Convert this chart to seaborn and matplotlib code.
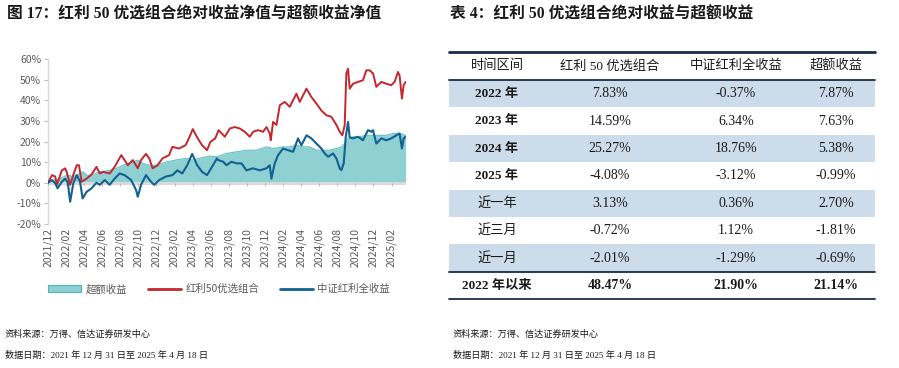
import matplotlib
matplotlib.use("Agg")
import matplotlib.pyplot as plt
import seaborn as sns
from matplotlib.patches import Patch, Rectangle
from matplotlib.lines import Line2D

# ---------------- data (months since 2021/12/31, percent) ----------------
red_m = [0.00, 0.44, 0.80, 0.99, 1.53, 1.90, 2.08, 2.45, 2.81, 3.18, 3.43, 3.72, 4.27, 4.82,
         5.36, 5.73, 6.09, 6.82, 7.37, 8.10, 8.47, 8.83, 9.38, 9.93, 10.29, 10.84, 11.20,
         11.57, 12.12, 12.66, 13.39, 13.76, 14.49, 15.22, 15.58, 16.02, 16.50, 17.04, 17.59,
         17.96, 18.50, 18.87, 19.56, 20.11, 20.66, 21.22, 21.77, 22.32, 22.69, 23.24, 23.79,
         24.16, 24.53, 24.64, 24.90, 25.27, 25.64, 26.19, 26.74, 27.48, 27.85, 28.59, 29.13,
         29.69, 30.24, 30.79, 31.34, 31.90, 32.27, 32.56, 32.82, 33.00, 33.19, 33.37, 33.74,
         34.29, 34.84, 35.21, 35.58, 35.95, 36.32, 36.87, 37.42, 37.97, 38.34, 38.71, 38.89,
         39.15, 39.34, 39.56]
red_v = [0.0, 3.7, 3.0, -1.0, 6.0, 7.0, 5.0, -1.0, 4.0, 8.5, 8.5, 0.5, 2.0, 4.0,
         7.7, 4.5, 5.3, 4.5, 7.7, 13.4, 11.0, 8.5, 11.0, 7.0, 11.0, 14.0, 11.8,
         7.0, 8.5, 11.8, 13.4, 17.4, 16.6, 18.2, 21.5, 26.0, 22.0, 18.2, 15.8,
         19.8, 21.5, 25.5, 22.3, 26.3, 27.0, 26.3, 24.7, 22.3, 24.7, 25.5, 24.7,
         27.0, 23.9, 20.6, 29.5, 28.0, 37.6, 39.2, 36.8, 43.2, 39.2, 45.6, 41.6,
         38.4, 35.0, 32.7, 32.0, 28.0, 24.7, 23.0, 28.0, 53.0, 55.3, 45.6, 48.0,
         48.9, 49.7, 54.5, 54.5, 53.0, 46.5, 48.9, 48.0, 47.3, 48.9, 53.7, 52.0,
         40.8, 47.3, 48.9]

blue_m = [0.00, 0.44, 0.80, 1.06, 1.53, 1.90, 2.19, 2.45, 2.81, 3.18, 3.54, 3.83, 4.27, 4.82,
          5.36, 5.73, 6.28, 6.82, 7.37, 7.92, 8.47, 9.20, 9.74, 9.93, 10.29, 10.84, 11.39,
          11.75, 12.30, 13.03, 13.76, 14.31, 14.85, 15.40, 15.95, 16.50, 17.04, 17.59, 18.14,
          18.69, 18.82, 19.37, 19.74, 20.29, 20.85, 21.40, 21.95, 22.69, 23.42, 24.16, 24.53,
          24.71, 25.08, 25.45, 26.00, 26.55, 27.11, 27.66, 28.03, 28.59, 29.13, 29.69, 30.24,
          30.61, 30.98, 31.53, 31.90, 32.27, 32.45, 32.71, 32.93, 33.19, 33.37, 33.74, 34.29,
          34.84, 35.40, 35.77, 35.95, 36.32, 36.87, 37.42, 37.97, 38.53, 38.89, 39.15, 39.34,
          39.56]
blue_v = [0.0, 1.3, -0.3, -2.7, 0.5, 2.0, 0.0, -9.2, 0.0, 3.7, 0.5, -7.6, -4.4, -2.7,
          0.0, -1.0, 1.3, -1.0, 2.0, 4.5, 3.7, 1.3, -3.5, -6.8, -1.0, 3.7, 0.5,
          -1.0, 1.3, 3.0, 3.7, 6.0, 4.5, 8.5, 14.0, 8.5, 5.3, 3.7, 7.7,
          11.8, 11.0, 10.2, 8.5, 10.2, 9.4, 9.4, 6.0, 7.0, 6.0, 7.0, 8.5,
          2.0, 9.4, 13.4, 16.6, 15.8, 15.0, 21.5, 18.2, 23.0, 21.5, 19.0, 16.6,
          14.2, 12.6, 14.2, 11.8, 7.0, 6.1, 9.4, 22.0, 29.5, 22.0, 21.5, 22.3,
          20.6, 25.5, 24.7, 25.5, 19.0, 21.5, 20.6, 21.5, 23.0, 23.9, 16.6, 21.5,
          22.3]

excess_m = [0.00, 0.62, 1.35, 2.08, 2.81, 3.54, 3.91, 4.27, 4.82, 5.73, 6.82, 7.55, 8.28,
            9.38, 9.93, 10.47, 11.20, 11.93, 13.03, 14.12, 15.22, 15.95, 16.68, 17.77,
            18.69, 19.74, 20.85, 21.95, 23.05, 24.16, 24.90, 26.00, 26.74, 27.48, 28.22,
            28.95, 29.69, 30.42, 31.16, 31.90, 32.45, 32.82, 33.19, 33.74, 34.47, 35.21,
            35.95, 36.67, 37.42, 38.16, 38.89, 39.56]
excess_v = [0.0, 1.3, 2.0, 3.7, 3.0, 4.5, 5.3, 3.7, 3.7, 5.3, 6.0, 7.0, 8.5,
            10.0, 11.0, 9.4, 8.5, 8.5, 10.0, 11.0, 11.8, 11.0, 11.8, 12.9,
            12.6, 14.2, 15.0, 15.8, 15.8, 17.4, 16.6, 17.4, 17.4, 18.2, 17.4,
            17.4, 15.8, 15.8, 15.8, 16.6, 17.4, 19.0, 21.5, 22.3, 22.3, 23.0,
            23.0, 23.0, 23.0, 23.9, 23.9, 23.0]

tick_months = [0, 2, 4, 6, 8, 10, 12, 14, 16, 18, 20, 22, 24, 26, 28, 30, 32, 34, 36, 38]
tick_labels = ["2021/12", "2022/02", "2022/04", "2022/06", "2022/08", "2022/10", "2022/12",
               "2023/02", "2023/04", "2023/06", "2023/08", "2023/10", "2023/12", "2024/02",
               "2024/04", "2024/06", "2024/08", "2024/10", "2024/12", "2025/02"]
y_ticks = [-20, -10, 0, 10, 20, 30, 40, 50, 60]
series_names = ["超额收益", "红利50优选组合", "中证红利全收益"]

table_header = ["时间区间", "红利 50 优选组合", "中证红利全收益", "超额收益"]
periods = ["2022 年", "2023 年", "2024 年", "2025 年", "近一年", "近三月", "近一月", "2022 年以来"]
port_ret = ["7.83%", "14.59%", "25.27%", "-4.08%", "3.13%", "-0.72%", "-2.01%", "48.47%"]
index_ret = ["-0.37%", "6.34%", "18.76%", "-3.12%", "0.36%", "1.12%", "-1.29%", "21.90%"]
excess_ret = ["7.87%", "7.63%", "5.38%", "-0.99%", "2.70%", "-1.81%", "-0.69%", "21.14%"]

left_title = "图 17：红利 50 优选组合绝对收益净值与超额收益净值"
right_title = "表 4：红利 50 优选组合绝对收益与超额收益"
source_text = "资料来源：万得、信达证券研发中心"
date_text = "数据日期：2021 年 12 月 31 日至 2025 年 4 月 18 日"

# ---------------- style ----------------
sns.set_theme(style="white")
plt.rcParams["font.family"] = ["Noto Sans CJK SC", "DejaVu Sans"]
SERIF = ["Liberation Serif", "Noto Sans CJK SC"]

RED = "#C4262E"
BLUE = "#12618F"
TEAL = "#8FD0D2"
TEAL_EDGE = "#62C0C2"
GREY_TXT = "#595959"
NAVY = "#1C2B48"
SHADE = "#CDDCEB"

W, H = 899, 368
fig = plt.figure(figsize=(W / 100, H / 100), dpi=100)

# overlay in pixel coordinates for titles, table, footers
ov = fig.add_axes([0, 0, 1, 1])
ov.set_xlim(0, W)
ov.set_ylim(H, 0)
ov.axis("off")

# ---------------- chart ----------------
x0, x1 = 48, 406
ytop, ybot = 59, 224
ax = fig.add_axes([x0 / W, 1 - ybot / H, (x1 - x0) / W, (ybot - ytop) / H])
ax.set_facecolor("none")

ax.fill_between(excess_m, excess_v, 0, color=TEAL, lw=0, zorder=1)
sns.lineplot(x=excess_m, y=excess_v, color=TEAL_EDGE, lw=0.8, ax=ax,
             sort=False, estimator=None, zorder=2)
ax.axhline(0, color="#D9D9D9", lw=2.2, zorder=3)
ax.vlines(tick_months, -1.6, 0, color="#BFBFBF", lw=0.8, zorder=3)
sns.lineplot(x=red_m, y=red_v, color=RED, lw=1.4, ax=ax, sort=False, estimator=None, zorder=4)
sns.lineplot(x=blue_m, y=blue_v, color=BLUE, lw=1.5, ax=ax, sort=False, estimator=None, zorder=5)

ax.set_xlim(0, 39.6)
ax.set_ylim(-20, 60)
ax.set_yticks(y_ticks)
ax.set_yticklabels([f"{v}%" for v in y_ticks])
ax.set_xticks(tick_months)
ax.set_xticklabels(tick_labels, rotation=90)
ax.tick_params(axis="y", left=True, length=3, width=0.8, color="#BFBFBF",
               labelsize=7.5, labelcolor=GREY_TXT, pad=2)
ax.tick_params(axis="x", bottom=False, length=0, labelsize=7.5, labelcolor=GREY_TXT, pad=3)
for s in ["top", "right", "bottom"]:
    ax.spines[s].set_visible(False)
ax.spines["left"].set_color("#D9D9D9")
ax.spines["left"].set_linewidth(1)
ax.set_xlabel("")
ax.set_ylabel("")
ax.grid(False)

handles = [Patch(facecolor=TEAL, edgecolor="#4DB6B8", lw=0.8),
           Line2D([], [], color=RED, lw=2),
           Line2D([], [], color=BLUE, lw=2)]
fig.legend(handles, series_names, loc="center left", bbox_to_anchor=(48 / W, 1 - 289 / H),
           ncol=3, frameon=False, fontsize=7.5, handlelength=3.2, handleheight=0.6,
           columnspacing=2.0, handletextpad=0.4, borderaxespad=0, borderpad=0,
           labelcolor=GREY_TXT)

# ---------------- titles ----------------
ov.text(7, 15, left_title, fontsize=11.3, fontweight="bold", va="center", ha="left",
        family=SERIF, color="#1A1A1A")
ov.text(450, 15, right_title, fontsize=11.3, fontweight="bold", va="center", ha="left",
        family=SERIF, color="#1A1A1A")

# ---------------- table ----------------
tx0, tx1 = 449, 875
col_x = [497, 610, 736, 836]
head_top, head_bot = 52, 80
row_h = 27.4
row_tops = [head_bot + i * row_h for i in range(len(periods) + 1)]

for i in range(len(periods)):
    if i % 2 == 0 and i < 7:
        ov.add_patch(Rectangle((tx0, row_tops[i]), tx1 - tx0, row_h, facecolor=SHADE,
                               edgecolor="none", zorder=0))

ov.plot([tx0, tx1], [head_top, head_top], color=NAVY, lw=2.0)
ov.plot([tx0, tx1], [head_bot, head_bot], color=NAVY, lw=1.3)
ov.plot([tx0, tx1], [row_tops[7], row_tops[7]], color=NAVY, lw=1.3)
ov.plot([tx0, tx1], [row_tops[8], row_tops[8]], color=NAVY, lw=1.3)

for cx, h in zip(col_x, table_header):
    ov.text(cx, (head_top + head_bot) / 2, h, fontsize=9.5, ha="center", va="center",
            family=SERIF, color="#1A1A1A")

for i, (p, a, b, c) in enumerate(zip(periods, port_ret, index_ret, excess_ret)):
    cy = row_tops[i] + row_h / 2
    last = i == len(periods) - 1
    p_bold = "bold" if ("年" in p and "近" not in p) else "normal"
    ov.text(col_x[0], cy, p, fontsize=9.5, ha="center", va="center", family=SERIF,
            fontweight=p_bold, color="#1A1A1A")
    for cx, val in zip(col_x[1:], [a, b, c]):
        ov.text(cx, cy, val, fontsize=10, ha="center", va="center", family=SERIF,
                fontweight="bold" if last else "normal", color="#1A1A1A")

# ---------------- footers ----------------
for xx in (5, 453):
    ov.text(xx, 334, source_text, fontsize=6.6, ha="left", va="center", color="#1A1A1A")
    ov.text(xx, 355.5, date_text, fontsize=6.6, ha="left", va="center", color="#1A1A1A",
            family=["Liberation Serif", "Noto Sans CJK SC"])

fig.savefig("out.png", dpi=100)
